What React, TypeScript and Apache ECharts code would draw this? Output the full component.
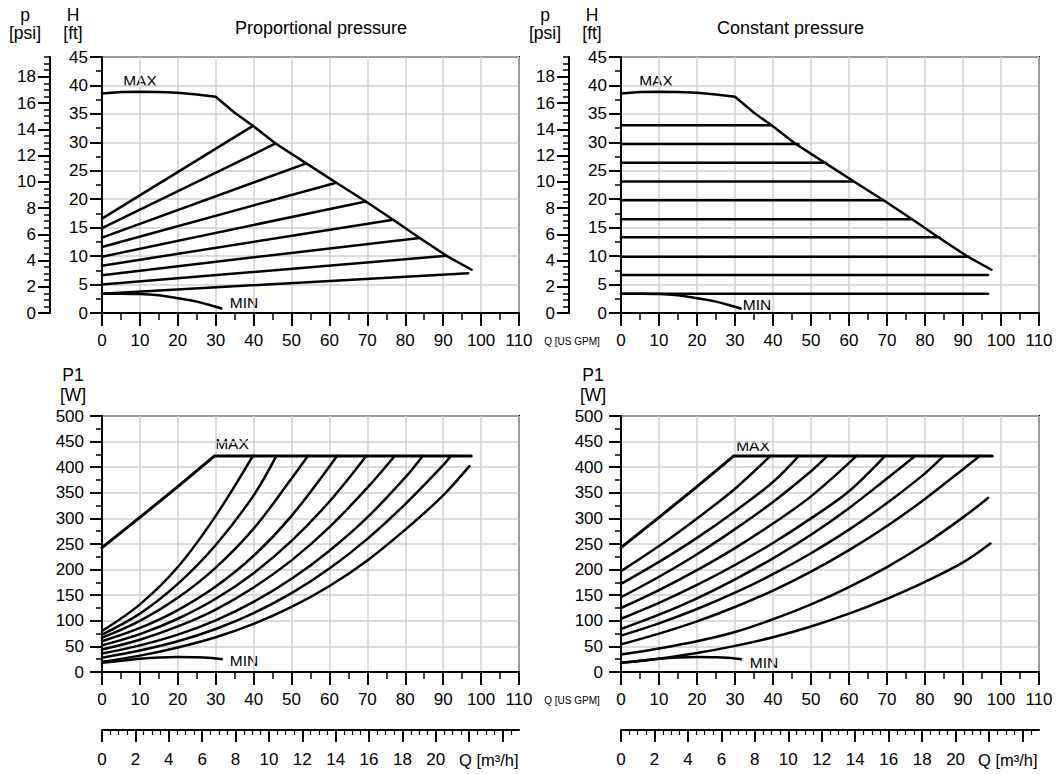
import React, { useEffect, useRef } from "react";
import * as echarts from "echarts";

const FT_PER_PSI = 2.3067;
const GPM_PER_M3H = 4.4029;
const Q_MAX = 110;
const H_MAX = 45;
const P_MAX = 500;

const psiTicks = [0, 2, 4, 6, 8, 10, 12, 14, 16, 18];
const m3hTicks = [0, 2, 4, 6, 8, 10, 12, 14, 16, 18, 20, 22, 24];
const m3hLabels = [0, 2, 4, 6, 8, 10, 12, 14, 16, 18, 20];

// ---- Head curves (H [ft] vs Q [US GPM]) ----
const maxQ = [0, 5, 10, 15, 20, 25, 30, 35, 39.8, 45.8, 53.9, 61.8, 69.6, 76.8, 83.8, 90.9, 97.5];
const maxH = [38.6, 38.85, 38.9, 38.85, 38.7, 38.4, 38.0, 35.2, 32.9, 29.8, 26.3, 22.9, 19.6, 16.4, 13.2, 10.05, 7.6];
const minQ = [0, 5, 10, 15, 20, 25, 30, 31.5];
const minH = [3.4, 3.4, 3.35, 3.1, 2.6, 2.0, 1.1, 0.8];

// proportional pressure lines
const propStartH = [16.6, 14.9, 13.25, 11.6, 9.9, 8.3, 6.65, 5.0, 3.4];
const propEndQ = [39.8, 45.8, 53.9, 61.8, 69.6, 76.8, 83.8, 90.9, 96.6];
const propEndH = [32.9, 29.8, 26.3, 22.9, 19.6, 16.4, 13.2, 10.05, 7.0];

// constant pressure lines
const constH = [33.0, 29.7, 26.4, 23.1, 19.8, 16.5, 13.3, 9.9, 6.7, 3.4];
const constEndQ = [39.5, 46.7, 54.0, 61.2, 68.9, 76.6, 83.8, 91.5, 96.6, 96.6];

// ---- Power curves (P1 [W] vs Q [US GPM]) ----
const pMaxQ = [0, 10, 20, 29.7, 97.4];
const pMaxP = [243, 302, 362, 422, 422];
const pMaxQRight = [0, 10, 20, 29.7, 97.7];
const pMinQ = [0, 5, 10, 15, 20, 25, 30, 31.6];
const pMinP = [18, 22, 26, 28.5, 29.5, 29, 26.5, 25];

// proportional pressure power curves
const propPQ = [
  [0, 10, 20, 30, 39.8],
  [0, 10, 20, 30, 40, 46],
  [0, 10, 20, 30, 40, 50, 54.3],
  [0, 10, 20, 30, 40, 50, 62],
  [0, 10, 20, 30, 40, 50, 60, 69.7],
  [0, 10, 20, 30, 40, 50, 60, 70, 77.2],
  [0, 10, 20, 30, 40, 50, 60, 70, 80, 84.6],
  [0, 10, 20, 30, 40, 50, 60, 70, 80, 90, 92],
  [0, 10, 20, 30, 40, 50, 60, 70, 80, 90, 96.9],
];
const propPP = [
  [80, 132, 205, 305, 422],
  [73, 114, 172, 248, 345, 422],
  [67, 100, 145, 204, 280, 378, 422],
  [60, 86, 121, 167, 227, 305, 422],
  [52, 74, 104, 143, 193, 256, 333, 422],
  [44, 63, 89, 122, 165, 218, 283, 360, 422],
  [36, 52, 73, 101, 137, 182, 237, 302, 380, 422],
  [28, 42, 60, 84, 115, 154, 202, 260, 328, 404, 422],
  [20, 32, 48, 68, 94, 127, 168, 218, 278, 345, 402],
];

// constant pressure power curves
const constPQ = [
  [0, 10, 20, 30, 39.3],
  [0, 10, 20, 30, 40, 46.8],
  [0, 10, 20, 30, 40, 50, 54.3],
  [0, 10, 20, 30, 40, 50, 62],
  [0, 10, 20, 30, 40, 50, 60, 69.5],
  [0, 10, 20, 30, 40, 50, 60, 70, 77.4],
  [0, 10, 20, 30, 40, 50, 60, 70, 80, 84.9],
  [0, 10, 20, 30, 40, 50, 60, 70, 80, 90, 94.4],
  [0, 10, 20, 30, 40, 50, 60, 70, 80, 90, 96.6],
  [0, 10, 20, 30, 40, 50, 60, 70, 80, 90, 97.2],
];
const constPP = [
  [197, 246, 300, 358, 422],
  [172, 215, 262, 314, 371, 422],
  [146, 186, 230, 279, 332, 392, 422],
  [125, 160, 199, 242, 290, 343, 422],
  [104, 135, 170, 209, 252, 300, 353, 422],
  [84, 112, 144, 181, 222, 268, 320, 378, 422],
  [71, 95, 123, 155, 191, 232, 278, 330, 388, 422],
  [54, 75, 99, 127, 159, 196, 238, 285, 338, 396, 422],
  [34, 46, 60, 78, 103, 132, 166, 205, 250, 302, 340],
  [18, 26, 37, 51, 68, 89, 114, 143, 176, 214, 251],
];

const zip = (a: number[], b: number[]) => a.map((x, i) => [x, b[i]]);

const FONT = "'Liberation Sans', Arial, Helvetica, sans-serif";
const BLACK = "#000";
const GRIDC = "#cfcfcf";
const TICK_FS = 17;
const NAME_FS = 17.5;

function lineSeries(data: number[][], xi: number, yi: number, smooth: boolean | number = false, width = 2.5) {
  return {
    type: "line",
    xAxisIndex: xi,
    yAxisIndex: yi,
    data,
    smooth,
    symbol: "none",
    showSymbol: false,
    silent: true,
    lineStyle: { color: BLACK, width, cap: "round", join: "round" },
    z: 5,
  };
}

function qAxis(gridIndex: number) {
  return {
    gridIndex,
    type: "value",
    position: "bottom",
    min: 0,
    max: Q_MAX,
    interval: 10,
    axisLine: { show: true, onZero: false, lineStyle: { color: BLACK, width: 2 } },
    axisTick: { show: true, length: 13, lineStyle: { color: BLACK, width: 2 } },
    minorTick: { show: true, splitNumber: 2, length: 7, lineStyle: { color: BLACK, width: 1.5 } },
    axisLabel: { color: BLACK, fontSize: TICK_FS, fontFamily: FONT, margin: 19 },
    splitLine: { show: true, lineStyle: { color: GRIDC, width: 1.5 } },
  };
}

function m3hAxis(gridIndex: number) {
  return {
    gridIndex,
    type: "value",
    position: "bottom",
    offset: 58,
    min: 0,
    max: Q_MAX / GPM_PER_M3H,
    interval: 2,
    axisLine: { show: true, onZero: false, lineStyle: { color: BLACK, width: 2 } },
    axisTick: { show: true, length: 12, customValues: m3hTicks, lineStyle: { color: BLACK, width: 2 } },
    minorTick: { show: true, splitNumber: 4, length: 5, lineStyle: { color: BLACK, width: 1.2 } },
    axisLabel: { color: BLACK, fontSize: TICK_FS, fontFamily: FONT, margin: 21, customValues: m3hLabels },
    splitLine: { show: false },
  };
}

function hAxis(gridIndex: number) {
  return {
    gridIndex,
    type: "value",
    position: "left",
    min: 0,
    max: H_MAX,
    interval: 5,
    axisLine: { show: true, onZero: false, lineStyle: { color: BLACK, width: 2 } },
    axisTick: { show: true, length: 12, lineStyle: { color: BLACK, width: 2 } },
    minorTick: { show: true, splitNumber: 2, length: 6, lineStyle: { color: BLACK, width: 1.5 } },
    axisLabel: { color: BLACK, fontSize: TICK_FS, fontFamily: FONT, margin: 14 },
    splitLine: { show: true, lineStyle: { color: GRIDC, width: 1.5 } },
  };
}

function psiAxis(gridIndex: number) {
  return {
    gridIndex,
    type: "value",
    position: "left",
    offset: 52,
    min: 0,
    max: H_MAX / FT_PER_PSI,
    interval: 2,
    axisLine: { show: true, onZero: false, lineStyle: { color: BLACK, width: 2 } },
    axisTick: { show: true, length: 12, customValues: psiTicks, lineStyle: { color: BLACK, width: 2 } },
    minorTick: { show: true, splitNumber: 4, length: 6, lineStyle: { color: BLACK, width: 1.5 } },
    axisLabel: { color: BLACK, fontSize: TICK_FS, fontFamily: FONT, margin: 14, customValues: psiTicks },
    splitLine: { show: false },
  };
}

function pAxis(gridIndex: number) {
  return {
    gridIndex,
    type: "value",
    position: "left",
    min: 0,
    max: P_MAX,
    interval: 50,
    axisLine: { show: true, onZero: false, lineStyle: { color: BLACK, width: 2 } },
    axisTick: { show: true, length: 12, lineStyle: { color: BLACK, width: 2 } },
    minorTick: { show: true, splitNumber: 2, length: 6, lineStyle: { color: BLACK, width: 1.5 } },
    axisLabel: { color: BLACK, fontSize: TICK_FS, fontFamily: FONT, margin: 18 },
    splitLine: { show: true, lineStyle: { color: GRIDC, width: 1.5 } },
  };
}

function txt(x: number, y: number, text: string, size = NAME_FS, align = "center") {
  return {
    type: "text",
    x,
    y,
    silent: true,
    style: { text, fill: BLACK, fontSize: size, fontFamily: FONT, align, verticalAlign: "middle" },
  };
}

export default function App() {
  const ref = useRef<HTMLDivElement>(null);

  useEffect(() => {
    if (!ref.current) return;
    const chart = echarts.init(ref.current, undefined, { renderer: "svg" });

    const series: any[] = [];
    // top-left
    series.push(lineSeries(zip(maxQ, maxH), 0, 0));
    series.push(lineSeries(zip(minQ, minH), 0, 0, 0.4));
    propStartH.forEach((h0, i) => {
      series.push(lineSeries([[0, h0], [propEndQ[i], propEndH[i]]], 0, 0));
    });
    // top-right
    series.push(lineSeries(zip(maxQ, maxH), 1, 2));
    series.push(lineSeries(zip(minQ, minH), 1, 2, 0.4));
    constH.forEach((h, i) => {
      series.push(lineSeries([[0, h], [constEndQ[i], h]], 1, 2));
    });
    // bottom-left
    series.push(lineSeries(zip(pMaxQ, pMaxP), 2, 4, false, 3));
    series.push(lineSeries(zip(pMinQ, pMinP), 2, 4, 0.4));
    propPQ.forEach((qs, i) => series.push(lineSeries(zip(qs, propPP[i]), 2, 4, 0.35)));
    // bottom-right
    series.push(lineSeries(zip(pMaxQRight, pMaxP), 3, 5, false, 3));
    series.push(lineSeries(zip(pMinQ, pMinP), 3, 5, 0.4));
    constPQ.forEach((qs, i) => series.push(lineSeries(zip(qs, constPP[i]), 3, 5, 0.35)));

    const gridBase = { show: true, borderColor: BLACK, borderWidth: 2, backgroundColor: "transparent", containLabel: false, outerBoundsMode: "none" };

    const option: any = {
      animation: false,
      backgroundColor: "#fff",
      textStyle: { fontFamily: FONT },
      grid: [
        { ...gridBase, left: 102, top: 57, width: 417, height: 256 },
        { ...gridBase, left: 621, top: 57, width: 418, height: 256 },
        { ...gridBase, left: 102, top: 416, width: 417, height: 256 },
        { ...gridBase, left: 621, top: 416, width: 418, height: 256 },
      ],
      xAxis: [qAxis(0), qAxis(1), qAxis(2), qAxis(3), m3hAxis(2), m3hAxis(3)],
      yAxis: [hAxis(0), psiAxis(0), hAxis(1), psiAxis(1), pAxis(2), pAxis(3)],
      series,
      graphic: [
        txt(235, 28, "Proportional pressure", 18, "left"),
        txt(717, 28, "Constant pressure", 18, "left"),
        txt(25, 15, "p"),
        txt(25, 33, "[psi]"),
        txt(73, 15, "H"),
        txt(73, 33, "[ft]"),
        txt(545, 15, "p"),
        txt(545, 33, "[psi]"),
        txt(592, 15, "H"),
        txt(592, 33, "[ft]"),
        txt(73, 375, "P1"),
        txt(73, 395, "[W]"),
        txt(593, 375, "P1"),
        txt(593, 395, "[W]"),
        txt(140, 80, "MAX", 15.5),
        txt(656, 80, "MAX", 15.5),
        txt(232, 443, "MAX", 15.5),
        txt(753, 445, "MAX", 15.5),
        txt(244, 302, "MIN", 15.5),
        txt(757, 304, "MIN", 15.5),
        txt(244, 660, "MIN", 15.5),
        txt(764, 662, "MIN", 15.5),
        txt(572, 341, "Q [US GPM]", 10),
        txt(572, 700, "Q [US GPM]", 10),
        txt(459, 760, "Q [m³/h]", 16.5, "left"),
        txt(978, 760, "Q [m³/h]", 16.5, "left"),
      ],
    };

    chart.setOption(option);
    return () => chart.dispose();
  }, []);

  return (
    <div
      ref={ref}
      style={{ position: "absolute", left: 0, top: 0, width: 1058, height: 774, background: "#fff" }}
    />
  );
}
